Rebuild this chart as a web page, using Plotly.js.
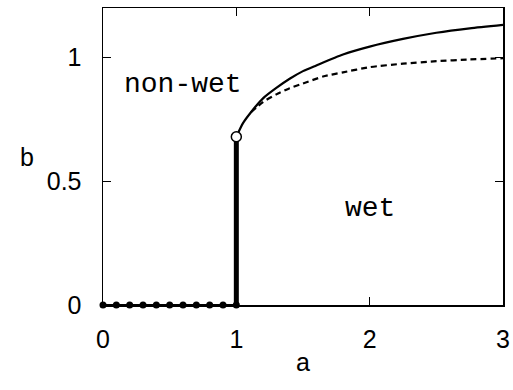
<!DOCTYPE html>
<html>
<head>
<meta charset="utf-8">
<script src="https://cdn.plot.ly/plotly-3.0.1.min.js"></script>
<style>
  html, body { margin: 0; padding: 0; background: #fff; }
  #plot { width: 513px; height: 390px; }
</style>
</head>
<body>
<div id="plot"></div>
<script>
// dotted segment along b = 0
var dots_a = [0, 0.1, 0.2, 0.3, 0.4, 0.5, 0.6, 0.7, 0.8, 0.9, 1.0];
var dots_b = [0, 0, 0, 0, 0, 0, 0, 0, 0, 0, 0];

// vertical jump at a = 1
var jump_a = [1, 1];
var jump_b = [0, 0.68];

// solid upper curve
var solid_a = [1, 1.05, 1.11, 1.2, 1.3, 1.4, 1.5, 1.6, 1.8, 2.0, 2.25, 2.5, 2.75, 3.0];
var solid_b = [0.68, 0.735, 0.779, 0.835, 0.877, 0.914, 0.945, 0.968, 1.012, 1.044, 1.075, 1.10, 1.118, 1.132];

// dashed lower curve
var dash_a = [1.11, 1.2, 1.3, 1.4, 1.5, 1.65, 1.8, 2.0, 2.25, 2.5, 2.75, 3.0];
var dash_b = [0.779, 0.82, 0.851, 0.876, 0.895, 0.923, 0.94, 0.961, 0.975, 0.985, 0.992, 0.997];

var labels = ['non-wet', 'wet'];
var label_a = [0.6, 2.0];
var label_b = [0.89, 0.39];

var trace_dots = {
  x: dots_a, y: dots_b,
  mode: 'lines+markers',
  line: {color: 'black', width: 2},
  marker: {color: 'black', size: 7},
  cliponaxis: false,
  type: 'scatter'
};
var trace_jump = {
  x: jump_a, y: jump_b,
  mode: 'lines',
  line: {color: 'black', width: 5},
  cliponaxis: false,
  type: 'scatter'
};
var trace_solid = {
  x: solid_a, y: solid_b,
  mode: 'lines',
  line: {color: 'black', width: 2.2, shape: 'spline', smoothing: 0.6},
  type: 'scatter'
};
var trace_dash = {
  x: dash_a, y: dash_b,
  mode: 'lines',
  line: {color: 'black', width: 2.2, dash: '6px,4px', shape: 'spline', smoothing: 0.6},
  type: 'scatter'
};
var trace_circle = {
  x: [jump_a[1]], y: [jump_b[1]],
  mode: 'markers',
  marker: {color: 'white', size: 10, line: {color: 'black', width: 1.5}},
  cliponaxis: false,
  type: 'scatter'
};

var tickfont = {family: 'Liberation Sans, Arial, sans-serif', size: 25, color: 'black'};
var monofont = {family: 'Liberation Mono, Courier New, monospace', size: 28, color: 'black'};

var layout = {
  width: 513, height: 390,
  margin: {l: 103, r: 10, t: 8, b: 85},
  showlegend: false,
  paper_bgcolor: 'white',
  plot_bgcolor: 'white',
  xaxis: {
    range: [0, 3],
    tickvals: [0, 1, 2, 3],
    ticks: 'inside', ticklen: 8, tickwidth: 1, tickcolor: 'black',
    showline: true, linecolor: 'black', linewidth: 1.5, mirror: 'ticks',
    showgrid: false, zeroline: false,
    tickfont: tickfont, ticklabelstandoff: 11,
    ticklabeloverflow: 'allow',
    fixedrange: true
  },
  yaxis: {
    range: [0, 1.2],
    tickvals: [0, 0.5, 1],
    ticktext: ['0', '0.5', '1'],
    ticks: 'inside', ticklen: 8, tickwidth: 1, tickcolor: 'black',
    showline: true, linecolor: 'black', linewidth: 1.5, mirror: 'ticks',
    showgrid: false, zeroline: false,
    tickfont: tickfont, ticklabelstandoff: 15,
    fixedrange: true
  },
  annotations: [
    {x: label_a[0], y: label_b[0], xref: 'x', yref: 'y', text: labels[0], showarrow: false, font: monofont},
    {x: label_a[1], y: label_b[1], xref: 'x', yref: 'y', text: labels[1], showarrow: false, font: monofont},
    {x: 18, y: 157, xref: 'paper', yref: 'paper', text: 'b', showarrow: false, font: tickfont},
    {x: 303, y: 378, xref: 'paper', yref: 'paper', text: 'a', showarrow: false, font: tickfont}
  ]
};

// axis letters are placed in pixel terms, convert to paper fractions
var pw = 513 - 103 - 10, ph = 390 - 8 - 85;
layout.annotations[2].x = (18 - 103) / pw;
layout.annotations[2].y = (390 - 85 - 157) / ph;
layout.annotations[3].x = (303 - 103) / pw;
layout.annotations[3].y = (390 - 85 - 378) / ph;

Plotly.newPlot('plot', [trace_dots, trace_jump, trace_dash, trace_solid, trace_circle], layout, {staticPlot: true});
</script>
</body>
</html>
